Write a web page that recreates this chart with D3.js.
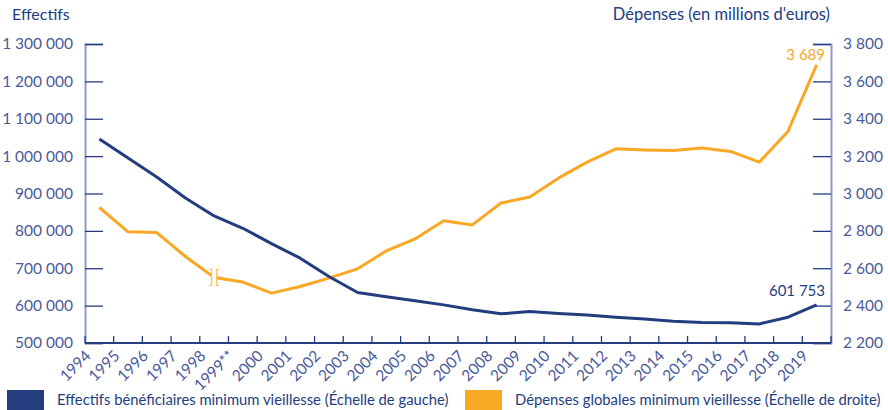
<html>
<head>
  <meta charset="utf-8">
  <script src="https://d3js.org/d3.v7.min.js"></script>
  <style>
    body { margin: 0; background: #fff; }
    text { font-family: Lato, "Open Sans", sans-serif; }
  </style>
</head>
<body>
  <svg width="888" height="410"></svg>
  <script>
    // data
    var years = ["1994", "1995", "1996", "1997", "1998", "1999**", "2000", "2001", "2002", "2003",
      "2004", "2005", "2006", "2007", "2008", "2009", "2010", "2011", "2012", "2013",
      "2014", "2015", "2016", "2017", "2018", "2019"];
    var effectifs = [1045700, 995000, 944000, 888000, 840000, 807000, 766000, 727000, 678000, 635000,
      624000, 613000, 602000, 589000, 578000, 584000, 579000, 575000, 569000, 564000,
      558000, 555000, 554000, 551000, 569000, 601753];
    var depenses = [2925, 2795, 2791, 2663, 2551, 2526, 2467, 2502, 2547, 2597,
      2693, 2757, 2854, 2832, 2949, 2981, 3082, 3168, 3239, 3233,
      3230, 3244, 3225, 3168, 3332, 3689];
    var leftTicks = [500000, 600000, 700000, 800000, 900000, 1000000, 1100000, 1200000, 1300000];
    var rightTicks = [2200, 2400, 2600, 2800, 3000, 3200, 3400, 3600, 3800];
    var breakYear = "1998";

    var navy = "#233d7f",
      orange = "#f9a825",
      labelColor = "#4a5a9a",
      axisLight = "#8e9ac6";

    var fr = d3.formatLocale({ decimal: ",", thousands: " ", grouping: [3], currency: ["", " €"] });
    var fmt = fr.format(",d");

    var svg = d3.select("svg");
    var pLeft = 85, pRight = 831, pTop = 44, pBottom = 343;

    var x = d3.scaleBand().domain(years).range([pLeft, pRight]);
    var yL = d3.scaleLinear().domain([500000, 1300000]).range([pBottom, pTop]);
    var yR = d3.scaleLinear().domain([2200, 3800]).range([pBottom, pTop]);
    var cx = function(d) { return x(d) + x.bandwidth() / 2; };

    // titles
    svg.append("text")
      .attr("x", 12).attr("y", 20)
      .attr("font-size", "16px").attr("fill", navy)
      .text("Effectifs");
    svg.append("text")
      .attr("x", 830).attr("y", 20)
      .attr("text-anchor", "end")
      .attr("font-size", "16.5px").attr("fill", navy)
      .text("Dépenses (en millions d'euros)");

    // left axis
    var gl = svg.append("g").attr("transform", "translate(" + pLeft + ",0)")
      .call(d3.axisRight(yL).tickValues(leftTicks).tickSize(18).tickFormat(""));
    gl.select(".domain").attr("stroke", axisLight).attr("stroke-width", 2);
    gl.selectAll(".tick line").attr("stroke", navy).attr("stroke-width", 1.3);
    svg.append("g").selectAll("text")
      .data(leftTicks).enter().append("text")
      .attr("x", pLeft - 12).attr("y", function(d) { return yL(d); })
      .attr("dy", "0.35em").attr("text-anchor", "end")
      .attr("font-size", "15.5px").attr("fill", labelColor)
      .text(function(d) { return fmt(d); });

    // right axis
    var gr = svg.append("g").attr("transform", "translate(" + pRight + ",0)")
      .call(d3.axisLeft(yR).tickValues(rightTicks).tickSize(18).tickFormat(""));
    gr.select(".domain").attr("stroke", axisLight).attr("stroke-width", 2);
    gr.selectAll(".tick line").attr("stroke", navy).attr("stroke-width", 1.3);
    svg.append("g").selectAll("text")
      .data(rightTicks).enter().append("text")
      .attr("x", pRight + 12).attr("y", function(d) { return yR(d); })
      .attr("dy", "0.35em")
      .attr("font-size", "15.5px").attr("fill", labelColor)
      .text(function(d) { return fmt(d); });

    // bottom axis
    var gb = svg.append("g").attr("transform", "translate(0," + pBottom + ")");
    gb.append("line").attr("x1", pLeft).attr("x2", pRight)
      .attr("stroke", navy).attr("stroke-width", 2);
    gb.selectAll(".xt").data(years.concat(["end"])).enter().append("line")
      .attr("class", "xt")
      .attr("x1", function(d, i) { return pLeft + i * x.step(); })
      .attr("x2", function(d, i) { return pLeft + i * x.step(); })
      .attr("y1", 0).attr("y2", -7)
      .attr("stroke", navy).attr("stroke-width", 1.3);
    gb.selectAll(".xl").data(years).enter().append("text")
      .attr("class", "xl")
      .attr("text-anchor", "end")
      .attr("font-size", "15.5px").attr("fill", labelColor)
      .attr("transform", function(d) { return "translate(" + (x(d) + 3) + ",10) rotate(-45)"; })
      .attr("dy", "0.35em")
      .text(function(d) { return d; });

    // lines
    var navyLine = d3.line()
      .x(function(d) { return cx(d.year); })
      .y(function(d) { return yL(d.v); });
    var orangeLine = d3.line()
      .x(function(d) { return cx(d.year); })
      .y(function(d) { return yR(d.v); });

    var effData = years.map(function(y, i) { return { year: y, v: effectifs[i] }; });
    var depData = years.map(function(y, i) { return { year: y, v: depenses[i] }; });

    // break in the spending series at 1998
    var bx = cx(breakYear), bi = years.indexOf(breakYear), by = yR(depenses[bi]);
    var defs = svg.append("defs");
    defs.append("clipPath").attr("id", "clipA").append("rect")
      .attr("x", 0).attr("y", 0).attr("width", bx - 3).attr("height", 410);
    defs.append("clipPath").attr("id", "clipB").append("rect")
      .attr("x", bx + 3).attr("y", 0).attr("width", 888).attr("height", 410);

    svg.append("path")
      .datum(depData.slice(0, bi + 2))
      .attr("clip-path", "url(#clipA)")
      .attr("fill", "none").attr("stroke", orange).attr("stroke-width", 3)
      .attr("stroke-linejoin", "round")
      .attr("d", orangeLine);
    svg.append("path")
      .datum(depData.slice(bi))
      .attr("clip-path", "url(#clipB)")
      .attr("fill", "none").attr("stroke", orange).attr("stroke-width", 3)
      .attr("stroke-linejoin", "round")
      .attr("d", orangeLine);

    // bracket symbols "][" at the break
    var bk = svg.append("g").attr("fill", "none").attr("stroke", "#fbc46a").attr("stroke-width", 1.4);
    bk.append("path").attr("d", "M" + (bx - 5) + "," + (by - 8) + "h2.5v16h-2.5");
    bk.append("path").attr("d", "M" + (bx + 5) + "," + (by - 8) + "h-2.5v16h2.5");

    svg.append("path")
      .datum(effData)
      .attr("fill", "none").attr("stroke", navy).attr("stroke-width", 3)
      .attr("stroke-linejoin", "round")
      .attr("d", navyLine);

    // value labels
    svg.append("text")
      .attr("x", 825).attr("y", yR(depenses[depenses.length - 1]) - 5)
      .attr("text-anchor", "end")
      .attr("font-size", "15px").attr("fill", orange)
      .text(fmt(depenses[depenses.length - 1]));
    svg.append("text")
      .attr("x", 825).attr("y", yL(effectifs[effectifs.length - 1]) - 9)
      .attr("text-anchor", "end")
      .attr("font-size", "15px").attr("fill", navy)
      .text(fmt(effectifs[effectifs.length - 1]));

    // legend
    var legend = [
      { label: "Effectifs bénéficiaires minimum vieillesse (Échelle de gauche)", color: navy, x: 7 },
      { label: "Dépenses globales minimum vieillesse (Échelle de droite)", color: orange, x: 465 }
    ];
    var lg = svg.append("g").selectAll("g").data(legend).enter().append("g")
      .attr("transform", function(d) { return "translate(" + d.x + ",390)"; });
    lg.append("rect").attr("width", 37).attr("height", 20)
      .attr("fill", function(d) { return d.color; });
    lg.append("text").attr("x", 50).attr("y", 15)
      .attr("font-size", "14.8px").attr("fill", navy)
      .text(function(d) { return d.label; });
  </script>
</body>
</html>
